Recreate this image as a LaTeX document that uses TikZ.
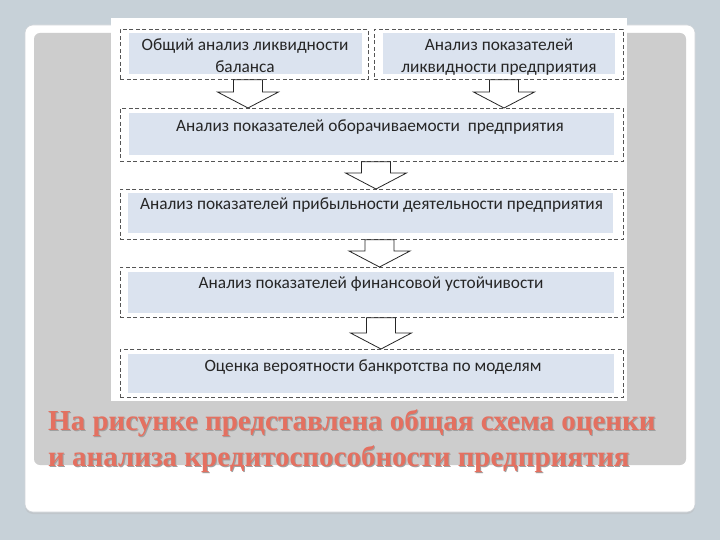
\documentclass[tikz,border=0pt]{standalone}
\usepackage{fontspec}
\newfontfamily\boxfont{Carlito}
\newfontfamily\capfont{Liberation Serif}
\usetikzlibrary{calc}
\definecolor{bg}{RGB}{199,209,216}
\definecolor{panelgray}{RGB}{205,205,205}
\definecolor{framegray}{RGB}{176,184,190}
\definecolor{dashc}{RGB}{85,85,85}
\definecolor{boxfill}{RGB}{219,227,239}
\definecolor{captxt}{RGB}{228,112,96}
\definecolor{capshadow}{RGB}{160,160,160}
\tikzset{
  dbox/.style={draw=dashc, dash pattern=on 4pt off 2.5pt, line width=0.8pt, fill=white, anchor=north west, inner sep=0pt},
  fbox/.style={fill=boxfill, anchor=north west, inner sep=0pt},
  lbl/.style={font=\boxfont\fontsize{17.3}{20}\selectfont, anchor=base, inner sep=0pt, text=black!85},
  captext/.style={font=\capfont\bfseries\fontsize{29}{34}\selectfont, anchor=base west, inner sep=0pt, text=captxt},
  capsh/.style={captext, text=capshadow},
  barrow/.style={draw=black!85, fill=white, line width=0.8pt, line join=miter}
}
\newcommand\blockarrow[2]{%
  \draw[barrow] let \p1=(#1), \p2=(#2) in
    (\x1-14.5pt,\y1) -- (\x1+14.5pt,\y1) -- (\x1+14.5pt,\y2+16pt) -- (\x1+30.5pt,\y2+16pt)
    -- (\x1,\y2) -- (\x1-30.5pt,\y2+16pt) -- (\x1-14.5pt,\y2+16pt) -- cycle;}
\begin{document}
\begin{tikzpicture}[x=1pt,y=-1pt]
\useasboundingbox (0,0) rectangle (720,540);
\fill[bg] (0,0) rectangle (720,540);
% slide frame
\fill[framegray!80, rounded corners=8pt] (25,27) rectangle (695,514);
\fill[white, draw=framegray!60, line width=0.6pt, rounded corners=8pt] (25,25) rectangle (695,512);
\fill[panelgray, rounded corners=6pt] (34,33) rectangle (686,465);
% white panel
\fill[white] (111,18) rectangle (627,401);
% boxes
\node[dbox, minimum width=248pt, minimum height=50pt] (d1) at (120,29) {};
\node[fbox, minimum width=233pt, minimum height=41pt] (f1) at (129,33) {};
\node[dbox, minimum width=249pt, minimum height=50pt] (d2) at (374,29) {};
\node[fbox, minimum width=232pt, minimum height=41pt] (f2) at (383,33) {};
\node[dbox, minimum width=503pt, minimum height=53pt] (d3) at (120,108) {};
\node[fbox, minimum width=485pt, minimum height=42pt] (f3) at (129,113) {};
\node[dbox, minimum width=503pt, minimum height=50pt] (d4) at (120,189) {};
\node[fbox, minimum width=485pt, minimum height=40pt] (f4) at (128,193) {};
\node[dbox, minimum width=503pt, minimum height=50pt] (d5) at (120,267) {};
\node[fbox, minimum width=486pt, minimum height=41pt] (f5) at (128,272) {};
\node[dbox, minimum width=503pt, minimum height=48pt] (d6) at (120,349) {};
\node[fbox, minimum width=486pt, minimum height=39pt] (f6) at (128,354) {};
% labels
\node[lbl] (t1a) at (245,50.5) {Общий анализ ликвидности};
\node[lbl] (t1b) at (245,72.5) {баланса};
\node[lbl] (t2a) at (499,50.5) {Анализ показателей};
\node[lbl] (t2b) at (499,72.5) {ликвидности предприятия};
\node[lbl] (t3) at (370,131.5) {Анализ показателей оборачиваемости\ \ предприятия};
\node[lbl] (t4) at (371.5,209.5) {Анализ показателей прибыльности деятельности предприятия};
\node[lbl] (t5) at (371,288.5) {Анализ показателей финансовой устойчивости};
\node[lbl] (t6) at (373,371.5) {Оценка вероятности банкротства по моделям};
% arrows
\coordinate (a1t) at (248,0 |- d1.south);
\coordinate (a1b) at (248,0 |- d3.north);
\coordinate (a2t) at (504,0 |- d2.south);
\coordinate (a2b) at (504,0 |- d3.north);
\coordinate (a3t) at (376,0 |- d3.south);
\coordinate (a3b) at (376,0 |- d4.north);
\coordinate (a4t) at (379.5,0 |- d4.south);
\coordinate (a4b) at (379.5,0 |- d5.north);
\coordinate (a5t) at (381,0 |- d5.south);
\coordinate (a5b) at (381,0 |- d6.north);
\blockarrow{a1t}{a1b}
\blockarrow{a2t}{a2b}
\blockarrow{a3t}{a3b}
\blockarrow{a4t}{a4b}
\blockarrow{a5t}{a5b}
% caption
\node[capsh] at (49,431) {На рисунке представлена общая схема оценки};
\node[capsh] at (49,467) {и анализа кредитоспособности предприятия};
\node[captext] (c1) at (48,430) {На рисунке представлена общая схема оценки};
\node[captext] (c2) at (48,466) {и анализа кредитоспособности предприятия};
\end{tikzpicture}
\end{document}
